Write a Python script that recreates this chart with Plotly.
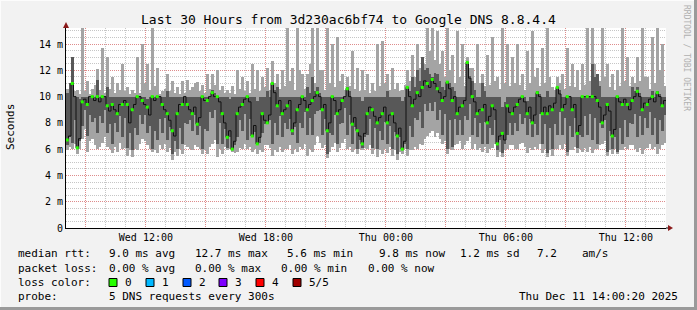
import plotly.graph_objects as go
import pandas as pd

# ---- data (ms), 7.5-minute samples starting Wed 08:00:20 ----
lo = [5.9, 6.2, 6.0, 6.4, 5.6, 6.0, 6.8, 7.5, 5.8, 6.6, 6.8, 6.3, 6.0, 6.2, 6.5, 6.9, 6.2, 6.0, 5.7, 6.2, 5.8, 6.5, 6.0, 6.1,
      5.5, 5.9, 5.4, 6.0, 5.9, 6.4, 6.8, 6.6, 6.3, 6.0, 5.8, 5.9, 5.7, 6.3, 6.0, 6.4, 5.8, 6.1, 5.2, 5.8, 5.5, 6.0, 5.6, 6.3,
      6.2, 6.0, 5.9, 6.3, 6.2, 6.0, 5.6, 5.9, 5.6, 6.2, 6.4, 6.7, 5.4, 6.0, 5.6, 6.2, 5.9, 6.0, 5.8, 5.7, 5.8, 6.1, 6.0, 6.4,
      6.0, 6.2, 5.8, 6.0, 5.6, 5.9, 5.8, 6.3, 6.3, 6.1, 5.5, 5.9, 5.8, 6.2, 5.8, 6.0, 6.0, 6.3, 5.6, 6.0, 5.8, 6.2, 6.0, 6.4,
      5.5, 6.0, 5.8, 6.3, 7.0, 6.5, 6.1, 6.3, 5.3, 5.8, 6.2, 6.5, 5.8, 6.1, 6.5, 6.8, 6.0, 6.2, 5.8, 6.0, 5.6, 6.0, 5.9, 6.1,
      6.0, 6.3, 5.6, 6.0, 5.4, 5.9, 5.6, 6.0, 5.7, 6.2, 5.5, 5.9, 5.2, 5.8, 5.6, 6.0, 5.5, 5.9, 5.9, 6.2, 6.0, 6.4, 6.3, 6.8,
      7.0, 7.2, 7.4, 6.9, 7.2, 6.8, 6.4, 6.6, 5.6, 6.0, 5.9, 6.3, 6.4, 6.6, 6.0, 6.3, 6.6, 6.9, 6.0, 6.4, 5.9, 6.1, 5.8, 6.2,
      5.7, 6.0, 6.1, 6.4, 5.4, 5.8, 5.4, 5.9, 6.0, 6.3, 6.3, 6.0, 6.0, 6.4, 6.5, 6.2, 5.7, 6.1, 5.9, 6.2, 6.0, 6.4, 5.7, 6.0,
      5.4, 5.9, 5.5, 6.0, 6.0, 6.3, 6.0, 6.4, 5.5, 5.9, 5.9, 6.2, 5.7, 6.0, 5.8, 6.1, 5.8, 6.2, 5.7, 6.0, 6.0, 6.3, 6.4, 6.6,
      5.5, 5.9, 5.6, 6.0, 5.6, 5.9, 5.9, 6.2, 6.0, 6.3, 6.3, 6.0, 5.8, 6.1, 5.6, 6.0, 6.1, 6.4, 6.0, 6.2, 5.6, 6.0, 6.3, 6.5]
dlo = [6.3, 6.9, 6.5, 8.2, 6.0, 6.6, 7.8, 9.0, 7.0, 8.6, 8.1, 8.4, 7.2, 8.5, 8.0, 9.0, 7.2, 7.9, 6.4, 8.0, 7.3, 8.5, 6.9, 8.4,
       6.1, 7.2, 5.9, 7.6, 7.1, 8.6, 7.9, 8.6, 7.2, 7.8, 6.0, 7.4, 6.7, 8.3, 7.2, 8.4, 6.7, 7.7, 5.6, 6.6, 6.0, 7.6, 6.4, 8.0,
       7.9, 8.2, 7.4, 8.6, 7.1, 7.8, 6.0, 7.5, 7.4, 8.8, 8.4, 9.0, 6.4, 8.0, 6.4, 7.5, 6.1, 6.9, 6.0, 6.3, 6.9, 8.2, 7.4, 8.7,
       6.7, 8.3, 6.9, 7.3, 6.4, 6.5, 7.2, 7.9, 7.9, 8.2, 6.4, 8.0, 7.1, 8.5, 6.9, 8.0, 7.5, 8.3, 7.1, 7.7, 6.5, 8.0, 7.6, 8.8,
       7.1, 8.4, 7.1, 8.7, 8.9, 9.0, 7.1, 8.3, 5.6, 7.2, 7.1, 8.6, 6.4, 7.9, 8.0, 9.1, 7.1, 8.6, 6.4, 7.7, 6.0, 6.7, 6.1, 6.9,
       7.1, 8.3, 6.1, 7.6, 6.0, 7.4, 6.7, 8.1, 6.4, 7.8, 6.0, 7.3, 5.6, 6.9, 6.0, 6.4, 6.0, 7.8, 6.9, 8.4, 8.2, 8.8, 7.6, 9.4,
       8.9, 9.5, 8.9, 9.6, 8.2, 9.0, 7.1, 8.7, 6.0, 8.2, 6.2, 8.3, 7.1, 8.2, 7.1, 8.5, 8.2, 9.4, 7.1, 8.4, 6.9, 8.0, 6.4, 8.1,
       6.4, 7.6, 7.1, 8.2, 5.9, 6.7, 5.7, 6.4, 7.1, 8.0, 7.1, 8.0, 7.4, 8.7, 7.9, 8.4, 7.1, 8.3, 6.9, 7.9, 7.1, 8.7, 6.4, 7.9,
       5.7, 7.6, 6.0, 7.9, 7.1, 8.8, 7.1, 8.4, 5.8, 7.8, 6.9, 8.4, 6.1, 7.1, 6.9, 8.5, 7.1, 8.7, 6.7, 8.4, 6.4, 8.0, 7.6, 8.2,
       5.8, 7.4, 6.0, 6.9, 5.8, 7.6, 6.4, 8.2, 6.9, 8.0, 7.9, 8.7, 6.9, 8.5, 7.1, 8.4, 7.6, 8.8, 7.1, 8.4, 6.4, 8.2, 7.4, 8.6]
med = [6.7, 7.0, 11.0, 10.0, 6.1, 6.8, 9.6, 9.8, 9.4, 10.0, 10.0, 9.7, 10.0, 9.6, 10.0, 10.0, 9.3, 8.9, 9.4, 9.0, 8.7, 9.4, 9.4, 9.7,
       9.4, 8.0, 9.0, 9.4, 10.0, 10.0, 9.7, 9.4, 9.2, 8.6, 10.0, 9.7, 10.0, 10.0, 9.4, 9.0, 8.7, 8.2, 7.4, 7.0, 8.7, 9.4, 9.4, 10.0,
       9.4, 9.0, 8.7, 9.2, 7.9, 8.4, 10.0, 9.7, 9.7, 10.0, 10.3, 10.0, 10.0, 9.6, 8.7, 8.0, 6.9, 7.4, 6.0, 6.6, 8.7, 9.2, 9.4, 9.8,
       10.0, 9.6, 7.0, 7.8, 6.4, 6.9, 8.7, 8.2, 8.0, 8.6, 11.0, 10.3, 9.3, 9.7, 8.7, 9.0, 9.3, 9.7, 7.4, 8.0, 9.0, 9.4, 10.0, 9.7,
       9.0, 9.4, 9.7, 10.0, 10.3, 10.0, 9.0, 9.4, 7.4, 8.0, 10.0, 9.7, 8.7, 9.0, 9.7, 10.0, 10.6, 10.0, 7.9, 8.4, 7.4, 7.0, 6.4, 7.2,
       8.7, 9.2, 9.0, 8.5, 8.0, 8.4, 8.7, 9.2, 8.0, 8.6, 8.7, 8.0, 7.0, 7.6, 6.0, 6.6, 10.7, 10.0, 9.3, 9.8, 10.3, 10.0, 10.7, 11.2,
       11.0, 10.7, 11.3, 11.0, 10.6, 10.3, 9.7, 10.0, 11.1, 10.6, 9.7, 10.0, 8.7, 9.2, 9.3, 9.7, 12.6, 11.4, 10.0, 9.6, 8.7, 9.0, 9.0, 9.4,
       8.0, 8.5, 9.3, 9.0, 6.4, 7.0, 7.2, 6.7, 9.3, 8.8, 8.7, 9.2, 9.4, 9.8, 10.0, 9.6, 8.7, 9.2, 8.0, 8.6, 10.3, 10.0, 8.7, 9.2,
       8.7, 9.3, 9.0, 9.5, 10.7, 10.2, 9.0, 9.4, 10.0, 10.0, 9.0, 9.4, 7.2, 7.8, 10.0, 10.0, 10.0, 10.0, 10.0, 10.0, 9.7, 9.2, 8.0, 8.6,
       9.4, 8.9, 7.0, 7.5, 10.0, 9.6, 9.4, 9.8, 9.4, 9.0, 9.7, 10.0, 10.4, 10.0, 9.0, 9.5, 9.4, 9.8, 10.0, 9.6, 10.3, 10.0, 9.3, 9.7]
dhi = [10.3, 11.0, 13.0, 10.0, 10.0, 9.8, 10.0, 10.0, 10.0, 10.0, 10.0, 10.0, 11.3, 10.0, 10.0, 10.0, 10.7, 10.0, 10.0, 10.0, 10.0, 10.0, 10.0, 10.0,
       10.0, 10.0, 10.0, 10.0, 10.0, 10.0, 10.0, 10.0, 9.8, 10.0, 10.0, 10.0, 10.0, 10.0, 10.0, 10.0, 10.4, 10.0, 10.0, 10.0, 10.0, 10.0, 10.0, 10.0,
       10.0, 10.0, 10.0, 10.0, 10.0, 10.0, 10.0, 10.0, 10.0, 10.0, 10.5, 10.3, 10.0, 10.0, 10.0, 10.0, 10.0, 9.8, 10.0, 10.0, 10.0, 10.0, 10.0, 10.0,
       10.0, 10.0, 10.0, 10.0, 9.7, 10.0, 10.0, 10.0, 10.4, 10.0, 11.0, 10.5, 10.7, 10.0, 10.0, 10.0, 10.0, 10.0, 10.0, 10.0, 10.0, 10.0, 10.0, 10.0,
       10.7, 10.3, 11.5, 10.4, 10.7, 10.3, 10.0, 10.0, 10.0, 10.0, 10.0, 10.0, 10.0, 10.0, 10.0, 10.0, 10.7, 10.4, 10.0, 10.0, 10.0, 10.0, 9.7, 10.0,
       10.0, 10.0, 10.0, 10.0, 10.0, 10.0, 10.0, 10.0, 10.4, 10.0, 10.0, 10.0, 10.0, 10.0, 9.7, 10.0, 10.7, 10.4, 11.5, 10.7, 12.0, 11.2, 13.0, 12.0,
       12.2, 11.7, 11.5, 11.8, 11.7, 11.2, 10.7, 10.5, 11.2, 11.0, 10.7, 10.4, 10.0, 10.0, 10.0, 10.0, 12.6, 11.6, 11.2, 10.5, 10.0, 10.0, 11.0, 10.4,
       10.0, 10.0, 10.0, 10.0, 10.0, 10.0, 9.2, 9.6, 10.0, 10.0, 10.0, 10.0, 10.0, 10.0, 10.0, 10.0, 9.7, 10.0, 10.0, 10.0, 10.4, 10.2, 10.0, 10.0,
       10.4, 10.0, 10.0, 10.0, 10.7, 10.5, 10.0, 10.0, 10.0, 10.0, 10.0, 10.0, 10.0, 10.0, 10.0, 10.0, 10.0, 10.0, 12.5, 11.5, 11.7, 10.8, 10.0, 10.0,
       10.0, 10.0, 10.0, 10.0, 10.0, 10.0, 10.0, 10.0, 10.0, 10.0, 10.7, 10.4, 10.7, 10.3, 10.0, 10.0, 10.0, 10.0, 10.4, 10.0, 10.4, 10.2, 10.0, 10.0]
hi = [10.6, 11.0, 13.0, 10.4, 10.5, 10.2, 15.3, 10.4, 11.2, 10.2, 10.6, 10.9, 12.1, 10.5, 13.7, 10.3, 13.0, 10.6, 11.5, 10.3, 11.0, 10.5, 12.5, 10.4,
      10.7, 10.2, 10.5, 10.3, 13.0, 10.3, 14.0, 11.0, 12.5, 10.5, 15.3, 10.8, 12.2, 10.2, 10.4, 10.6, 11.7, 10.4, 11.2, 10.3, 10.7, 10.2, 11.2, 10.3,
      11.3, 10.5, 10.7, 11.0, 11.1, 10.4, 10.9, 10.3, 11.7, 10.6, 11.7, 10.9, 12.0, 10.5, 10.8, 10.3, 10.5, 10.3, 10.8, 10.2, 12.0, 10.6, 11.5, 10.4,
      11.2, 10.3, 12.5, 10.6, 12.0, 10.4, 11.5, 10.7, 12.2, 10.5, 12.7, 11.0, 11.7, 10.6, 12.0, 10.8, 15.3, 11.2, 12.2, 10.5, 15.3, 12.0, 11.7, 10.6,
      11.7, 12.5, 15.3, 11.0, 15.3, 12.0, 12.0, 10.5, 15.3, 11.0, 14.0, 10.7, 14.5, 11.2, 11.7, 10.5, 11.5, 10.8, 13.5, 10.6, 12.2, 10.4, 12.0, 10.5,
      11.7, 10.3, 11.0, 10.4, 14.0, 10.8, 14.2, 11.0, 11.7, 10.5, 12.2, 10.6, 11.0, 10.4, 10.5, 10.9, 12.0, 11.2, 13.2, 11.5, 14.0, 12.2, 13.0, 12.5,
      15.3, 13.5, 15.3, 12.8, 15.0, 12.5, 13.5, 11.5, 15.3, 12.0, 13.2, 11.0, 15.0, 11.5, 14.0, 10.8, 13.0, 12.2, 12.2, 11.0, 14.0, 11.0, 11.7, 10.8,
      13.2, 10.9, 14.5, 11.2, 11.5, 10.6, 15.3, 11.0, 14.0, 10.8, 13.0, 11.0, 14.0, 10.9, 11.7, 10.5, 13.5, 11.0, 15.0, 11.5, 12.2, 10.8, 13.7, 11.0,
      15.3, 11.5, 10.7, 10.5, 11.5, 11.0, 11.7, 10.6, 13.7, 10.8, 12.5, 10.7, 12.0, 10.5, 12.5, 10.9, 15.3, 11.2, 15.3, 12.5, 11.7, 11.2, 15.3, 11.5,
      12.5, 10.7, 11.7, 10.5, 12.0, 10.8, 15.3, 11.2, 13.0, 10.8, 11.5, 11.0, 13.0, 11.2, 15.3, 11.5, 11.5, 10.6, 14.5, 11.0, 15.3, 12.0, 14.0, 10.8]

start_time = "2025-12-10 08:00:20"
step_seconds = 450

x_tickvals = ["2025-12-10 09:00", "2025-12-10 12:00", "2025-12-10 15:00", "2025-12-10 18:00",
              "2025-12-10 21:00", "2025-12-11 00:00", "2025-12-11 03:00", "2025-12-11 06:00",
              "2025-12-11 09:00", "2025-12-11 12:00"]
x_ticktext = ["", "Wed 12:00", "", "Wed 18:00", "", "Thu 00:00", "", "Thu 06:00", "", "Thu 12:00"]
y_tickvals = [0, 2, 4, 6, 8, 10, 12, 14]
y_ticktext = ["0", "2 m", "4 m", "6 m", "8 m", "10 m", "12 m", "14 m"]

title_text = "Last 30 Hours from 3d230ac6bf74 to Google DNS 8.8.4.4"
loss_labels = ["0", "1", "2", "3", "4", "5/5"]
loss_colors = ["#26ff00", "#00b8ff", "#0059ff", "#7e00ff", "#ff0000", "#a00000"]

# ---- layout geometry ----
W, H = 697, 310
L, R, T, B = 66, 666, 28, 228
def px(v):
    return (v - L) / (R - L)
def py(v):
    return (B - v) / (B - T)

N = len(med)
step = pd.Timedelta(seconds=step_seconds)
times = pd.date_range(start_time, periods=N, freq=f"{step_seconds}s")
centers = times + step / 2
end_time = times[-1] + step
wms = step_seconds * 1000

FONT = "DejaVu Sans Mono"
fig = go.Figure()
fig.add_trace(go.Bar(x=centers, base=lo, y=[h - l for h, l in zip(hi, lo)], width=wms,
                     marker=dict(color="#a4a4a4", line=dict(width=0)), hoverinfo="skip"))
fig.add_trace(go.Bar(x=centers, base=dlo, y=[h - l for h, l in zip(dhi, dlo)], width=wms,
                     marker=dict(color="#585858", line=dict(width=0)), hoverinfo="skip"))
fig.add_trace(go.Scatter(x=list(times) + [end_time], y=med + [med[-1]], mode="lines",
                         line=dict(shape="hv", color="#111111", width=1), hoverinfo="skip"))
fig.add_trace(go.Scatter(x=list(centers)[0::2], y=med[0::2], mode="markers",
                         marker=dict(symbol="square", size=3, color=loss_colors[0], line=dict(width=0)),
                         hoverinfo="skip"))

grid_major = "rgba(230,120,120,0.75)"
grid_minor = "rgba(160,160,160,0.6)"
fig.update_layout(
    width=W, height=H, margin=dict(l=L, r=W - R, t=T, b=H - B),
    paper_bgcolor="#f2f2f2", plot_bgcolor="#ffffff",
    barmode="overlay", bargap=0, showlegend=False,
    font=dict(family=FONT, size=10, color="#000000"),
    xaxis=dict(type="date", range=[times[0], end_time], tickmode="array",
               tickvals=x_tickvals, ticktext=x_ticktext, showgrid=True,
               gridcolor=grid_major, griddash="1px,1px", gridwidth=1,
               minor=dict(dtick=3600000, tick0="2025-12-10 00:00", showgrid=True,
                          gridcolor=grid_minor, griddash="1px,1px", gridwidth=1),
               showline=True, linecolor="#000000", linewidth=1, zeroline=False,
               ticks="", tickfont=dict(family=FONT, size=10), fixedrange=True),
    yaxis=dict(range=[0, (B - T) / 13.14], tickmode="array", tickvals=y_tickvals,
               ticktext=y_ticktext, showgrid=True, gridcolor=grid_major,
               griddash="1px,1px", gridwidth=1,
               minor=dict(dtick=0.5, tick0=0, showgrid=True, gridcolor=grid_minor,
                          griddash="1px,1px", gridwidth=1),
               showline=True, linecolor="#000000", linewidth=1, zeroline=False,
               ticks="", tickfont=dict(family=FONT, size=10), fixedrange=True),
)

ann = []
def text(xp, yp, s, size=11, anchor="left", color="#000000", angle=0):
    ann.append(dict(x=px(xp), y=py(yp), xref="paper", yref="paper", text=s, showarrow=False,
                    xanchor=anchor, yanchor="middle", textangle=angle,
                    font=dict(family=FONT, size=size, color=color)))

text(348, 19, title_text, size=13, anchor="center")
text(10, 127, "Seconds", size=11, anchor="center", angle=-90)
text(687, 58, "RRDTOOL / TOBI OETIKER", size=8, anchor="center", color="#b0b0b0", angle=90)

# legend lines
text(16, 254, "median rtt:")
text(107, 254, "9.0 ms avg")
text(193, 254, "12.7 ms max")
text(285, 254, "5.6 ms min")
text(377, 254, "9.8 ms now")
text(458, 254, "1.2 ms sd")
text(535, 254, "7.2")
text(580, 254, "am/s")
text(16, 268, "packet loss:")
text(107, 268, "0.00 % avg")
text(193, 268, "0.00 % max")
text(279, 268, "0.00 % min")
text(366, 268, "0.00 % now")
text(16, 282, "loss color:")
text(16, 296, "probe:")
text(107, 296, "5 DNS requests every 300s")
text(680, 296, "Thu Dec 11 14:00:20 2025", anchor="right")

shapes = []
box_x = [109, 146, 183, 219, 256, 293]
for bx, lab, col in zip(box_x, loss_labels, loss_colors):
    shapes.append(dict(type="rect", xref="paper", yref="paper", x0=px(bx), x1=px(bx + 8),
                       y0=py(286.5), y1=py(278.5), fillcolor=col,
                       line=dict(color="#000000", width=1)))
    text(bx + 14, 282, lab)

# axis arrows
shapes.append(dict(type="path", xref="paper", yref="paper",
                   path=f"M {px(L-3)},{py(T)} L {px(L+3)},{py(T)} L {px(L)},{py(T-6)} Z",
                   fillcolor="#8b1a1a", line=dict(width=0)))
shapes.append(dict(type="path", xref="paper", yref="paper",
                   path=f"M {px(R+2)},{py(B-3)} L {px(R+2)},{py(B+3)} L {px(R+7)},{py(B)} Z",
                   fillcolor="#8b1a1a", line=dict(width=0)))
shapes.append(dict(type="line", xref="paper", yref="paper", x0=px(R), x1=px(R + 2),
                   y0=py(B), y1=py(B), line=dict(color="#000000", width=1)))
# image frame
shapes.append(dict(type="line", xref="paper", yref="paper", x0=px(0), x1=px(W),
                   y0=py(0.5), y1=py(0.5), line=dict(color="#fcfcfc", width=1)))
shapes.append(dict(type="line", xref="paper", yref="paper", x0=px(0.5), x1=px(0.5),
                   y0=py(0), y1=py(H), line=dict(color="#fcfcfc", width=1)))
shapes.append(dict(type="line", xref="paper", yref="paper", x0=px(0), x1=px(W),
                   y0=py(H - 1.5), y1=py(H - 1.5), line=dict(color="#9a9a9a", width=3)))
shapes.append(dict(type="line", xref="paper", yref="paper", x0=px(W - 1.5), x1=px(W - 1.5),
                   y0=py(0), y1=py(H), line=dict(color="#9a9a9a", width=3)))

fig.update_layout(annotations=ann, shapes=shapes)
fig.write_html("out.html")
